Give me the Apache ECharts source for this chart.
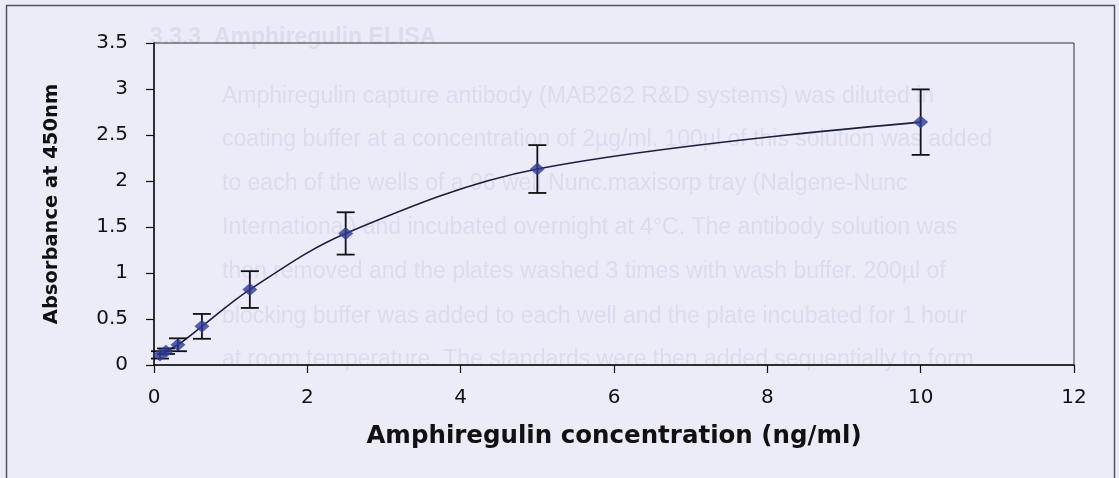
<!DOCTYPE html>
<html>
<head>
<meta charset="utf-8">
<script src="https://cdn.jsdelivr.net/npm/echarts@6/dist/echarts.min.js"></script>
<style>
  html, body { margin: 0; padding: 0; background: #ecebf8; }
  #chart { width: 1119px; height: 478px; }
</style>
</head>
<body>
<div id="chart"></div>
<script>
// Amphiregulin ELISA standard curve: mean absorbance with error bars
const concentration = [0.078, 0.156, 0.3125, 0.625, 1.25, 2.5, 5, 10];
const absorbance    = [0.11, 0.15, 0.22, 0.42, 0.82, 1.43, 2.13, 2.64];
const errorSize     = [0.04, 0.03, 0.07, 0.135, 0.2, 0.23, 0.26, 0.356];

const xTicks = [0, 2, 4, 6, 8, 10, 12];
const yTicks = [0, 0.5, 1, 1.5, 2, 2.5, 3, 3.5];

// faint lines of the printed page showing through behind the figure
const pageLines = [
  { t: '3.3.3  Amphiregulin ELISA', x: 150, y: 38, bold: true },
  { t: 'Amphiregulin capture antibody (MAB262 R&D systems) was diluted in', x: 222, y: 97 },
  { t: 'coating buffer at a concentration of 2µg/ml. 100µl of this solution was added', x: 222, y: 140 },
  { t: 'to each of the wells of a 96 well Nunc.maxisorp tray (Nalgene-Nunc', x: 222, y: 184 },
  { t: 'International) and incubated overnight at 4°C. The antibody solution was', x: 222, y: 228 },
  { t: 'then removed and the plates washed 3 times with wash buffer. 200µl of', x: 222, y: 272 },
  { t: 'blocking buffer was added to each well and the plate incubated for 1 hour', x: 222, y: 317 },
  { t: 'at room temperature. The standards were then added sequentially to form', x: 222, y: 360 }
];

const points = concentration.map((c, i) => [c, absorbance[i]]);
const bars = concentration.map((c, i) => [c, absorbance[i] - errorSize[i], absorbance[i] + errorSize[i]]);

const chart = echarts.init(document.getElementById('chart'), null, { renderer: 'canvas' });

const fontFamily = '"DejaVu Sans", "Liberation Sans", Arial, sans-serif';

const option = {
  backgroundColor: '#ecebf8',
  animation: false,
  grid: {
    left: 154, right: 45, top: 43, bottom: 113,
    containLabel: false,
    outerBoundsMode: 'none',
    show: true,
    borderColor: '#333',
    borderWidth: 1,
    backgroundColor: 'transparent'
  },
  graphic: [
    {
      type: 'rect', silent: true, z: -10,
      shape: { x: 6.5, y: 5.5, width: 1108, height: 490 },
      style: { fill: 'transparent', stroke: '#555', lineWidth: 1.5 }
    }
  ].concat(pageLines.map(l => ({
    type: 'text', silent: true, z: -20,
    x: l.x, y: l.y,
    style: {
      text: l.t,
      fill: 'rgba(80,80,150,0.09)',
      font: (l.bold ? 'bold ' : '') + '23px "Liberation Sans", Arial, sans-serif',
      textVerticalAlign: 'middle'
    }
  }))),
  xAxis: {
    type: 'value',
    min: xTicks[0], max: xTicks[xTicks.length - 1], interval: xTicks[1] - xTicks[0],
    name: 'Amphiregulin concentration (ng/ml)',
    nameLocation: 'middle',
    nameGap: 59,
    nameTextStyle: { fontFamily, fontWeight: 'bold', fontSize: 24.5, color: '#111' },
    axisLine: { show: true, onZero: false, lineStyle: { color: '#111', width: 1.5 } },
    axisTick: { show: true, inside: false, length: 8, lineStyle: { color: '#111', width: 1.2 } },
    axisLabel: { fontFamily, fontSize: 20, color: '#111', margin: 23 },
    splitLine: { show: false }
  },
  yAxis: {
    type: 'value',
    min: yTicks[0], max: yTicks[yTicks.length - 1], interval: yTicks[1] - yTicks[0],
    name: 'Absorbance at 450nm',
    nameLocation: 'middle',
    nameGap: 92,
    nameTextStyle: { fontFamily, fontWeight: 'bold', fontSize: 19.5, color: '#111' },
    axisLine: { show: true, onZero: false, lineStyle: { color: '#111', width: 1.5 } },
    axisTick: { show: true, inside: false, length: 8, lineStyle: { color: '#111', width: 1.2 } },
    axisLabel: { fontFamily, fontSize: 20, color: '#111', margin: 26 },
    splitLine: { show: false }
  },
  series: [
    {
      type: 'line',
      data: points,
      smooth: 0.35,
      showSymbol: false,
      lineStyle: { color: '#1b1f3c', width: 1.6 },
      z: 2
    },
    {
      type: 'custom',
      data: bars,
      z: 3,
      renderItem: function (params, api) {
        const x = api.value(0);
        const lo = api.coord([x, api.value(1)]);
        const hi = api.coord([x, api.value(2)]);
        const cap = 9;
        const style = { stroke: '#111', lineWidth: 1.8 };
        return {
          type: 'group',
          children: [
            { type: 'line', shape: { x1: lo[0], y1: lo[1], x2: hi[0], y2: hi[1] }, style },
            { type: 'line', shape: { x1: hi[0] - cap, y1: hi[1], x2: hi[0] + cap, y2: hi[1] }, style },
            { type: 'line', shape: { x1: lo[0] - cap, y1: lo[1], x2: lo[0] + cap, y2: lo[1] }, style }
          ]
        };
      }
    },
    {
      type: 'scatter',
      data: points,
      symbol: 'diamond',
      symbolSize: [15, 13],
      itemStyle: { color: '#2f3b94' },
      z: 4
    }
  ]
};

chart.setOption(option);
</script>
</body>
</html>
